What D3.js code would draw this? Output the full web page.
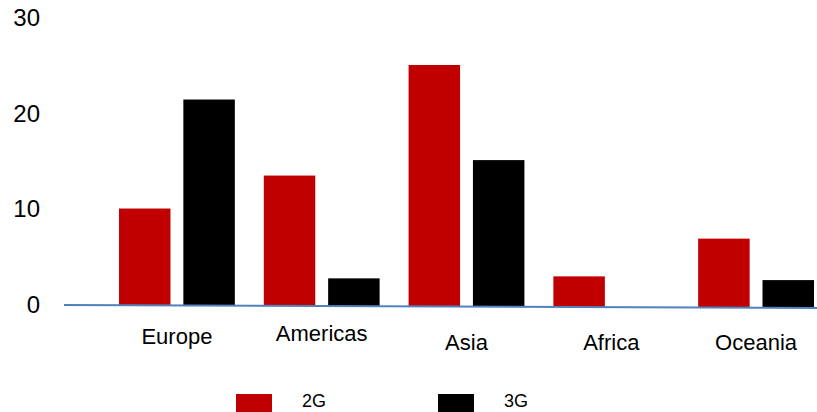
<html>
<head>
<meta charset="utf-8">
<script src="https://d3js.org/d3.v7.min.js"></script>
<style>
  body { margin: 0; background: #fff; }
  text { font-family: "Liberation Sans", Arial, sans-serif; fill: #000; }
</style>
</head>
<body>
<div id="chart"></div>
<script>
// data
const regions = ["Europe", "Americas", "Asia", "Africa", "Oceania"];
const series = ["2G", "3G"];
const values2G = [10.1, 13.6, 25.2, 3.2, 7.2];
const values3G = [21.5, 2.9, 15.3, 0, 2.9];
const yTicks = [0, 10, 20, 30];
const colors = ["#c00000", "#000000"];

const W = 817, H = 412;
const data = regions.map((r, i) => ({ region: r, vals: [values2G[i], values3G[i]] }));

const svg = d3.select("#chart").append("svg")
    .attr("width", W)
    .attr("height", H);

const y = d3.scaleLinear().domain([0, 30]).range([305, 17.5]);

const x0 = d3.scaleBand()
    .domain(regions)
    .range([119, 814])
    .paddingInner(0.2)
    .paddingOuter(0);

const x1 = d3.scaleBand()
    .domain(series)
    .range([0, x0.bandwidth()])
    .paddingInner(0.2);

// the baseline in the original drops a few pixels towards the right
const tilt = 3 / 752;
const base = px => y(0) + (px - 65) * tilt;

// y axis labels only
const yAxis = svg.append("g")
    .attr("transform", "translate(40,0)")
    .call(d3.axisLeft(y).tickValues(yTicks).tickSize(0).tickPadding(0));
yAxis.select(".domain").remove();
yAxis.selectAll("text")
    .style("font-family", "Liberation Sans, Arial, sans-serif")
    .style("font-size", "24px")
    .attr("fill", "#000");

const bars = [];
data.forEach(d => d.vals.forEach((v, k) => bars.push({ region: d.region, key: series[k], v: v, k: k })));

svg.selectAll("rect.bar")
    .data(bars)
    .enter().append("rect")
    .attr("class", "bar")
    .attr("x", d => x0(d.region) + x1(d.key))
    .attr("width", x1.bandwidth())
    .attr("y", d => base(x0(d.region) + x1(d.key) + x1.bandwidth() / 2) - (y(0) - y(d.v)))
    .attr("height", d => y(0) - y(d.v))
    .attr("fill", d => colors[d.k]);

svg.append("line")
    .attr("x1", 64).attr("x2", W)
    .attr("y1", base(64)).attr("y2", base(W))
    .attr("stroke", "#4f81bd")
    .attr("stroke-width", 2);

// category labels
const labelNudge = [-1, -4, 5, 5, 5];
const xAxis = svg.append("g")
    .attr("transform", "translate(0," + y(0) + ")")
    .call(d3.axisBottom(x0).tickSize(0).tickPadding(24));
xAxis.select(".domain").remove();
xAxis.selectAll("text")
    .style("font-family", "Liberation Sans, Arial, sans-serif")
    .style("font-size", "22px")
    .attr("fill", "#000")
    .attr("y", (d, i) => 24 + labelNudge[i]);

// legend
const legend = svg.append("g").attr("transform", "translate(236,394)");
const lg = legend.selectAll("g")
    .data(series)
    .enter().append("g")
    .attr("transform", (d, i) => "translate(" + (i * 202) + ",0)");
lg.append("rect")
    .attr("width", 36).attr("height", 18)
    .attr("fill", (d, i) => colors[i]);
lg.append("text")
    .attr("x", 66).attr("y", 13)
    .style("font-size", "18px")
    .text(d => d);
</script>
</body>
</html>
